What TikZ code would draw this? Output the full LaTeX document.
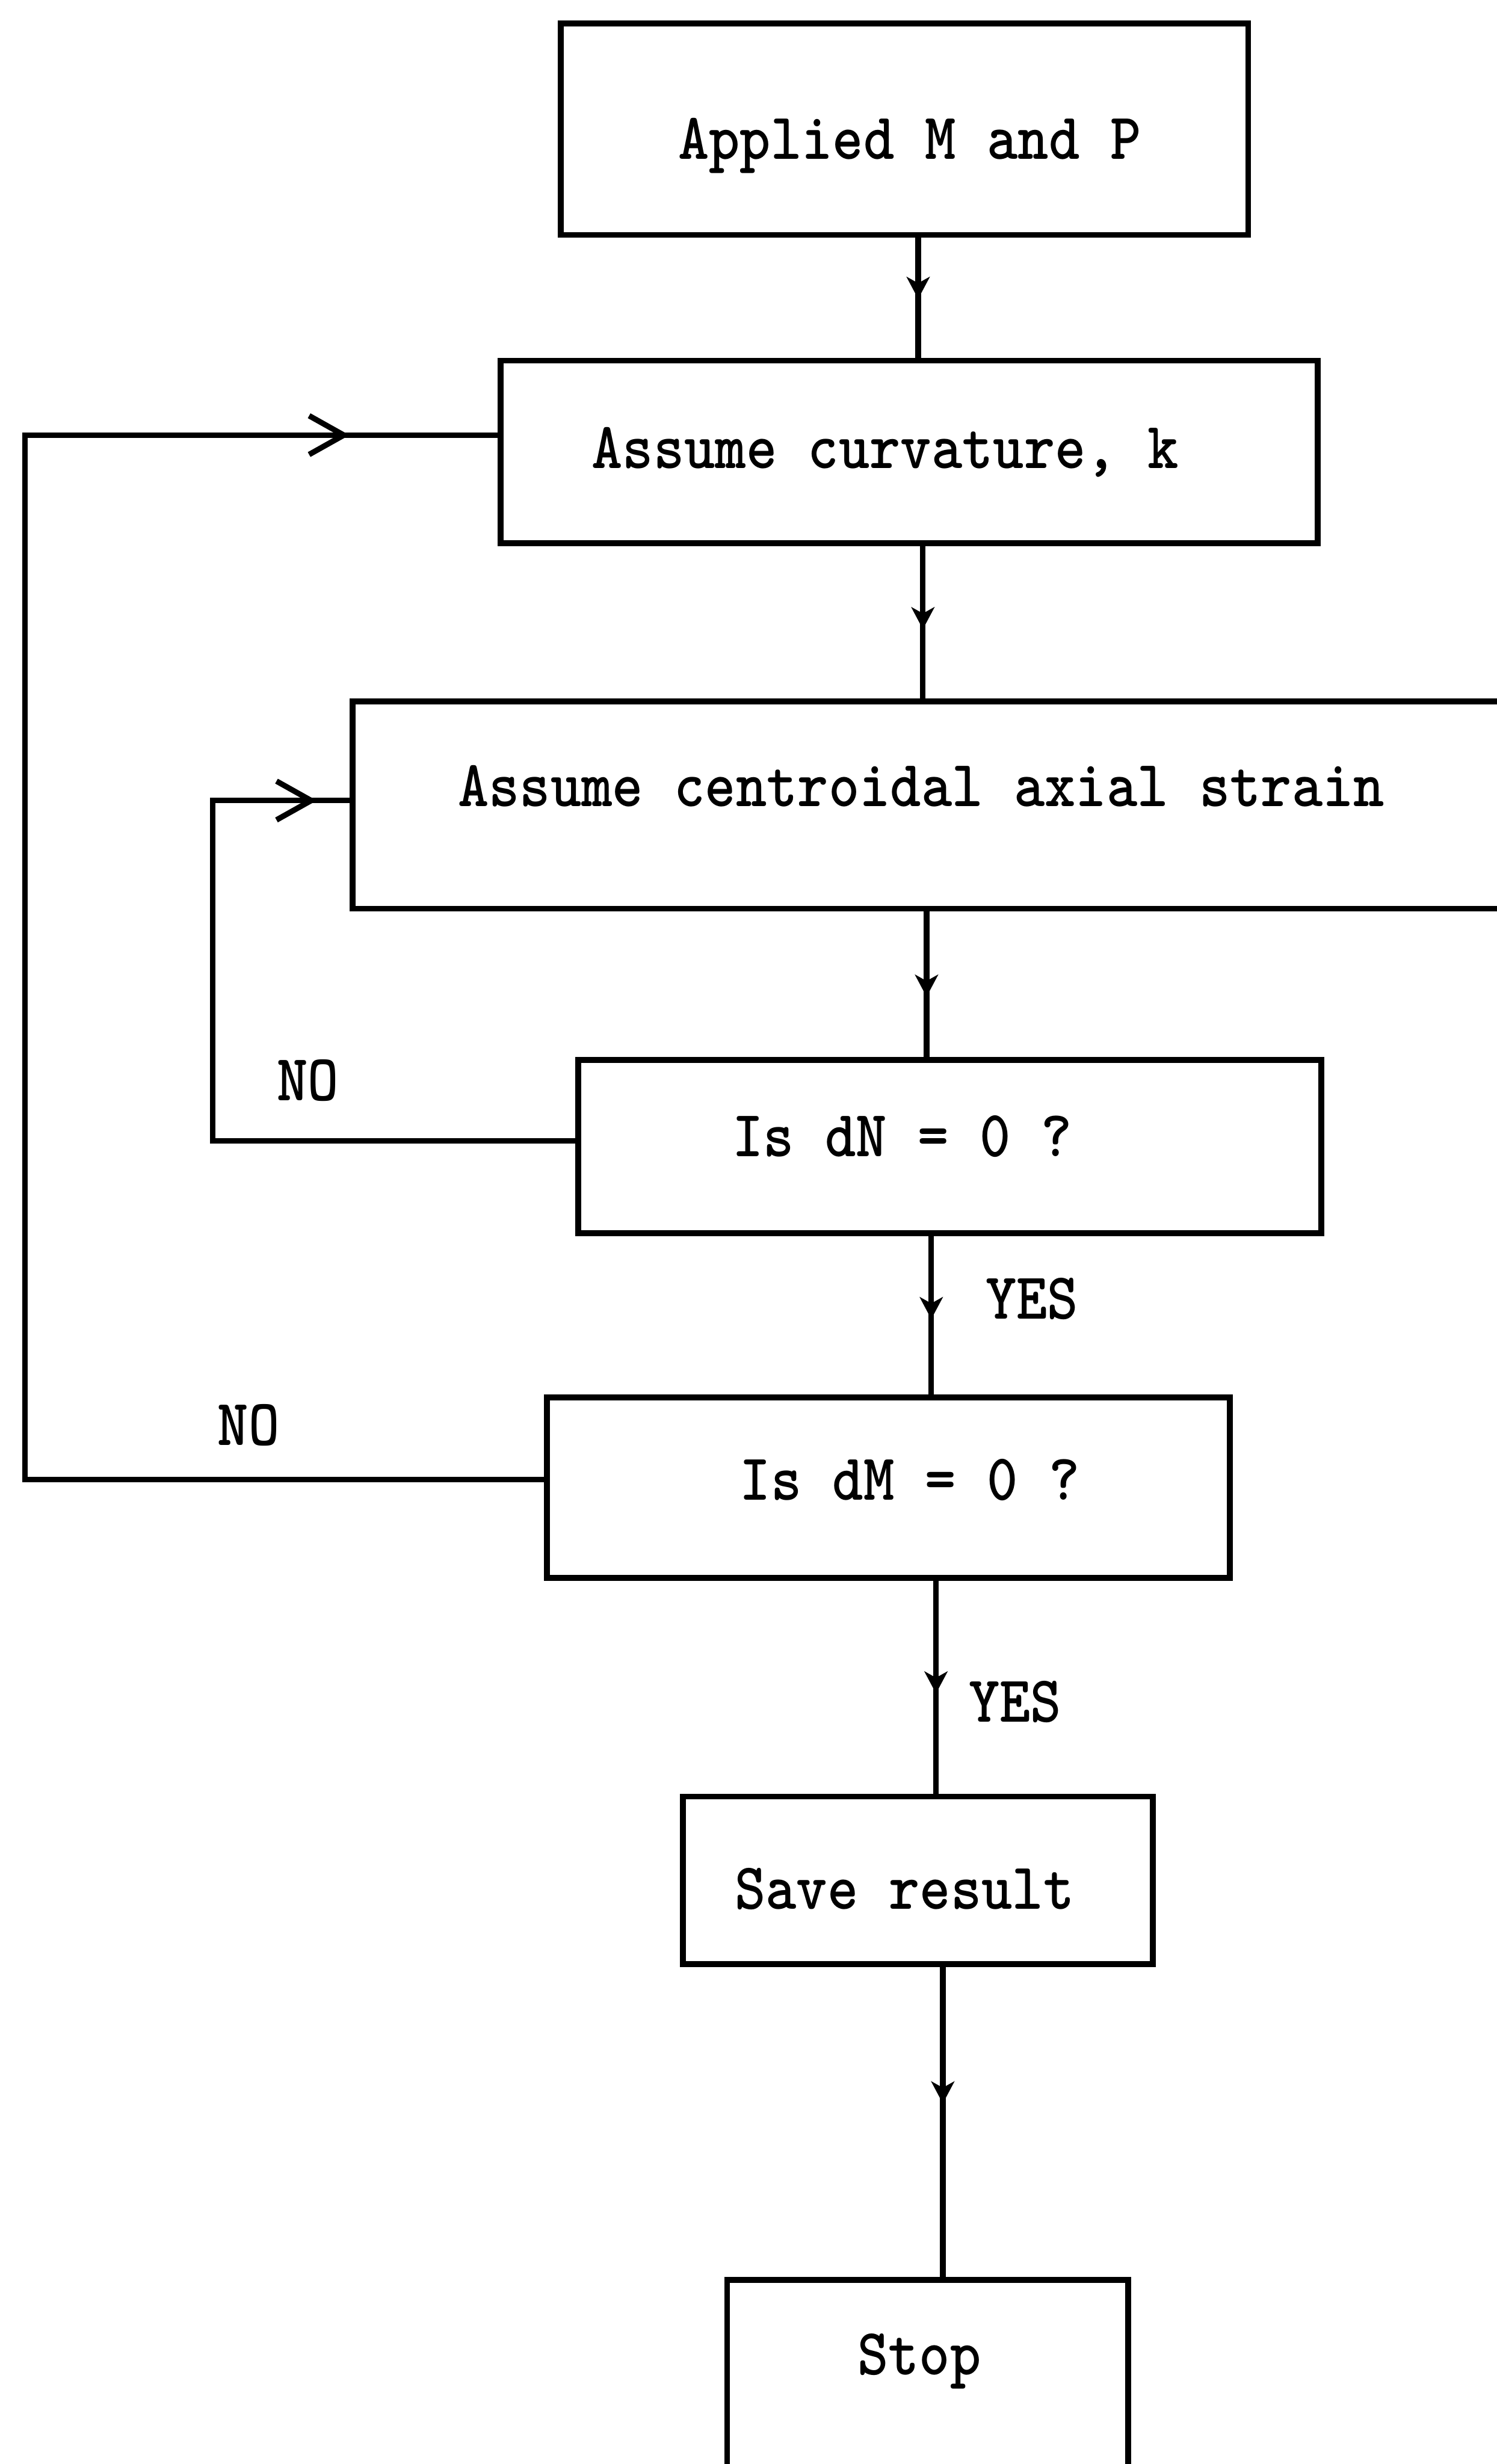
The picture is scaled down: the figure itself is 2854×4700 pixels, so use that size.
\documentclass[tikz,border=0pt]{standalone}
\usepackage{fontspec}
\usepackage{graphicx}
\usetikzlibrary{arrows.meta,decorations.markings}
\newcommand{\stretchtxt}[1]{\scalebox{1}[1.12]{#1}}
\tikzset{
  vtip/.tip={Stealth[length=0.42cm,width=0.44cm,inset=0.12cm]},
  htip/.tip={Straight Barb[length=0.66cm,width=0.74cm]},
  box/.style={draw, rectangle, line width=3.2pt, inner sep=0pt, outer sep=0pt},
  conn/.style={line width=3pt},
  vmid/.style={conn, postaction={decorate}, decoration={markings, mark=at position #1 with {\arrow{vtip}}}},
  hmid/.style={conn, postaction={decorate}, decoration={markings, mark=at position #1 with {\arrow{htip}}}},
  txt/.style={anchor=base, inner sep=0pt, font=\ttfamily\bfseries\fontsize{31.9pt}{38pt}\selectfont},
}
\begin{document}
\begin{tikzpicture}[x=0.01cm, y=-0.01cm]
\useasboundingbox (0,0) rectangle (2854,4700);
% boxes
\node[box, minimum width=13.10cm, minimum height=4.03cm] (b1) at (1725,246.5) {};
\node[box, minimum width=15.57cm, minimum height=3.48cm] (b2) at (1733.5,862) {};
\node[box, minimum width=22.27cm, minimum height=3.95cm] (b3) at (1786.5,1535.5) {};
\node[box, minimum width=14.16cm, minimum height=3.30cm] (b4) at (1811,2187) {};
\node[box, minimum width=13.02cm, minimum height=3.44cm] (b5) at (1694,2838) {};
\node[box, minimum width=8.95cm, minimum height=3.19cm] (b6) at (1750.5,3586.5) {};
\node[box, minimum width=7.64cm, minimum height=3.91cm] (b7) at (1769,4544.5) {};
% texts
\node[txt] (t1) at (1735,304) {\stretchtxt{Applied M and P}};
\node[txt] (t2) at (1688,893) {\stretchtxt{Assume curvature, k}};
\node[txt] (t3) at (1757,1538) {\stretchtxt{Assume centroidal axial strain}};
\node[txt] (t4) at (1721,2206) {\stretchtxt{Is dN = 0 ?}};
\node[txt] (t5) at (1735,2861) {\stretchtxt{Is dM = 0 ?}};
\node[txt] (t6) at (1725,3641) {\stretchtxt{Save result}};
\node[txt] (t7) at (1753,4530) {\stretchtxt{Stop}};
\node[txt] (no1) at (587,2099) {\stretchtxt{NO}};
\node[txt] (no2) at (474,2757) {\stretchtxt{NO}};
\node[txt] (yes1) at (1968,2516) {\stretchtxt{YES}};
\node[txt] (yes2) at (1936,3284) {\stretchtxt{YES}};
% spine coordinates
\coordinate (s1) at (1751,0);
\coordinate (s2) at (1760,0);
\coordinate (s3) at (1767,0);
\coordinate (s4) at (1776,0);
\coordinate (s5) at (1785,0);
\coordinate (s6) at (1798,0);
\draw[vmid=1.22cm] (b1.south -| s1) -- (b2.north -| s1);
\draw[vmid=1.64cm] (b2.south -| s2) -- (b3.north -| s2);
\draw[vmid=1.68cm] (b3.south -| s3) -- (b4.north -| s3);
\draw[vmid=1.64cm] (b4.south -| s4) -- (b5.north -| s4);
\draw[vmid=2.20cm] (b5.south -| s5) -- (b6.north -| s5);
\draw[vmid=2.66cm] (b6.south -| s6) -- (b7.north -| s6);
% loops
\coordinate (c1) at (406,2176);
\coordinate (c2) at (406,1527);
\coordinate (c3) at (48,2822);
\coordinate (c4) at (48,830);
\draw[conn] (c1 -| b4.west) -- (c1) -- (c2) -- (c2 -| b3.west);
\draw[hmid=1.98cm] (c2) -- (c2 -| b3.west);
\draw[conn] (c3 -| b5.west) -- (c3) -- (c4) -- (c4 -| b2.west);
\draw[hmid=6.18cm] (c4) -- (c4 -| b2.west);
\end{tikzpicture}
\end{document}
